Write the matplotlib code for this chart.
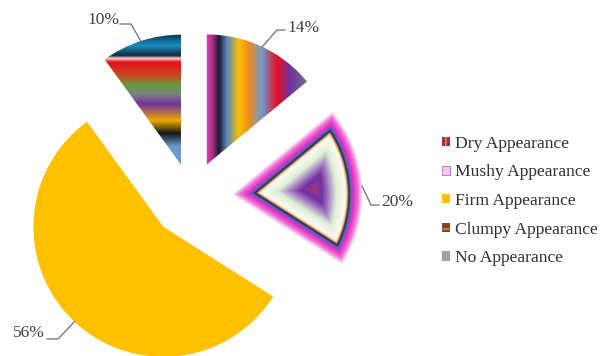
import matplotlib
matplotlib.use("Agg")
import matplotlib.pyplot as plt
import numpy as np
from matplotlib.colors import LinearSegmentedColormap
from matplotlib.patches import Patch

# share of each appearance class (%)
categories = ["Dry Appearance", "Mushy Appearance", "Firm Appearance",
              "Clumpy Appearance", "No Appearance"]
values = [14, 20, 56, 0, 10]
pct_labels = ["14%", "20%", "56%", "", "10%"]

W, H = 600, 356
plt.rcParams["font.family"] = ["Liberation Serif", "DejaVu Serif"]

fig = plt.figure(figsize=(W / 100, H / 100), dpi=100)
ax = fig.add_axes([0, 0, 1, 1])


def px(x, y):
    # pixel position (origin top-left) -> data coords
    return x, H - y


radius = 130
explode = [36, 41, 41, 0, 34]
wedges, _ = ax.pie(values, explode=explode, radius=radius, center=px(191.5, 197),
                   startangle=90, counterclock=False,
                   colors=["none", "none", "#FFC000", "#7a4a30", "none"],
                   wedgeprops=dict(linewidth=0))
ax.set_xlim(0, W)
ax.set_ylim(0, H)
ax.set_aspect("equal")
ax.axis("off")

# gradient fills, clipped to the wedges
gx, gy = np.meshgrid(np.linspace(0, W, 2 * W), np.linspace(0, H, 2 * H))

dry_cmap = LinearSegmentedColormap.from_list("dry", [
    (0.0, "#d53aa8"), (0.05, "#b0308a"), (0.12, "#1a1a2e"), (0.2, "#5a88c0"),
    (0.32, "#f8c000"), (0.42, "#f08a1e"), (0.55, "#6a9cd0"), (0.7, "#e81020"),
    (0.83, "#7030a0"), (1.0, "#707088")])
no_cmap = LinearSegmentedColormap.from_list("no", [
    (0.0, "#0a3a5a"), (0.08, "#1a90c0"), (0.16, "#102838"), (0.18, "#f8d8d8"),
    (0.21, "#e81018"), (0.32, "#c05020"), (0.39, "#60a040"), (0.46, "#808080"),
    (0.53, "#7030a0"), (0.66, "#f0a800"), (0.76, "#181818"), (0.86, "#6a9ad0"),
    (1.0, "#6a9ad0")])
mushy_cmap = LinearSegmentedColormap.from_list("mushy", [
    (0.0, "#fde8f8"), (0.07, "#f070d8"), (0.15, "#e030c0"), (0.2, "#4868c8"),
    (0.23, "#202020"), (0.26, "#f0b080"), (0.29, "#fffaf2"), (0.45, "#dcefd4"),
    (0.6, "#a070c0"), (0.7, "#7030a0"), (0.78, "#8a3898"), (0.85, "#e02020"),
    (1.0, "#e02020")])


def add_fill(wedge, t, cmap):
    im = ax.imshow(cmap(np.clip(t, 0, 1)), extent=(0, W, 0, H), origin="lower",
                   interpolation="bilinear", zorder=wedge.get_zorder())
    im.set_clip_path(wedge)


# dry: vertical stripes
w = wedges[0]
x0 = w.center[0]
x1 = x0 + w.r * np.cos(np.radians(min(w.theta1, w.theta2)))
add_fill(w, (gx - x0) / (x1 - x0), dry_cmap)

# no appearance: horizontal stripes
w = wedges[4]
ytop = w.center[1] + w.r
add_fill(w, (ytop - gy) / w.r, no_cmap)

# mushy: shape gradient by distance to the wedge outline
w = wedges[1]
cx, cy = w.center
dx, dy = gx - cx, gy - cy
d_arc = w.r - np.hypot(dx, dy)
d_edges = []
for th in (w.theta1, w.theta2):
    ux, uy = np.cos(np.radians(th)), np.sin(np.radians(th))
    d_edges.append(np.abs(dx * uy - dy * ux))
dist = np.minimum(d_arc, np.minimum(*d_edges))
add_fill(w, dist / dist.max(), mushy_cmap)

# percentage labels with elbow leader lines
label_layout = {0: ((277, 30), (285, 30), (287, 28), "left"),
                1: ((371, 205), (379, 205), (381, 202), "left"),
                2: ((58, 339), (47, 339), (45, 333), "right"),
                4: ((131, 24), (120, 24), (119, 20), "right")}
for i, (elbow, end, txt, ha) in label_layout.items():
    w = wedges[i]
    thm = np.radians((w.theta1 + w.theta2) / 2)
    ax0 = w.center[0] + w.r * np.cos(thm)
    ay0 = w.center[1] + w.r * np.sin(thm)
    xs = [ax0, px(*elbow)[0], px(*end)[0]]
    ys = [ay0, px(*elbow)[1], px(*end)[1]]
    ax.plot(xs, ys, color="#707070", lw=0.9)
    ax.text(*px(*txt), pct_labels[i], ha=ha, va="center", fontsize=12.5,
            color="#404040")

handles = [
    Patch(facecolor="#a02c5c", edgecolor="#d8a040", hatch="||", lw=0),
    Patch(facecolor="#f4c8ee", edgecolor="#c060c0", lw=0.6),
    Patch(facecolor="#FFC000", lw=0),
    Patch(facecolor="#7a4a30", edgecolor="#e09040", hatch="--", lw=0),
    Patch(facecolor="#a0a0a0", lw=0),
]
ax.legend(handles, categories, loc="center left", bbox_to_anchor=(442 / W, 1 - 201 / H),
          frameon=False, fontsize=12.6, handlelength=0.43, handleheight=0.43,
          handletextpad=0.3, labelspacing=0.72, borderaxespad=0, borderpad=0,
          labelcolor="#303030")

fig.savefig("out.png", dpi=100)
